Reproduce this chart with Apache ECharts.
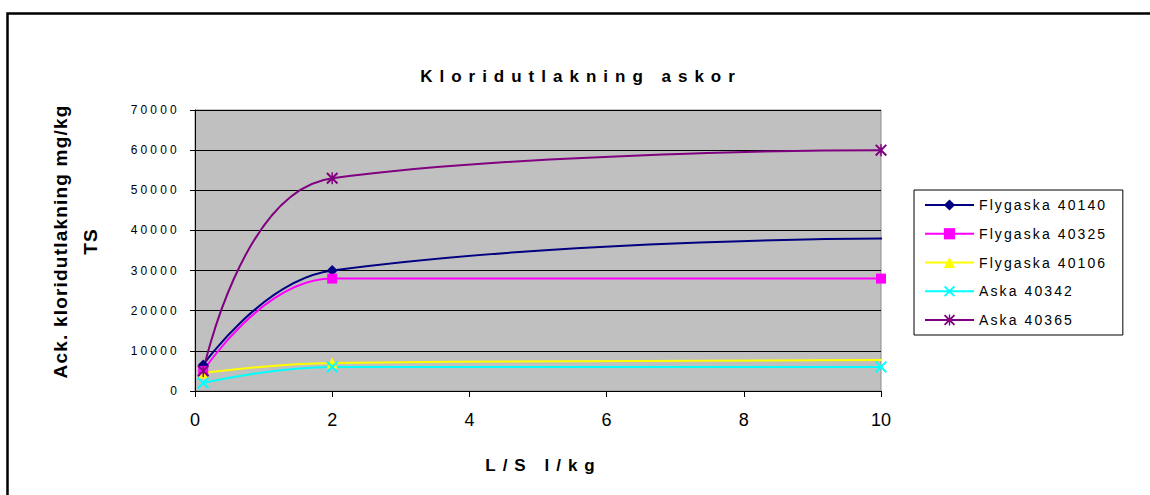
<!DOCTYPE html>
<html>
<head>
<meta charset="utf-8">
<script src="https://cdn.jsdelivr.net/npm/echarts@6/dist/echarts.min.js"></script>
<style>
  html, body { margin: 0; padding: 0; background: #ffffff; }
  #chart { width: 1150px; height: 495px; }
  /* letter spacing of the original Excel text, keyed by font size */
  #chart text[style*="17px"] { letter-spacing: 7px; }
  #chart text[style*="19px"] { letter-spacing: 1.2px; }
  #chart text[style*="12px"] { letter-spacing: 3.2px; }
  #chart text[style*="14px"] { letter-spacing: 2.1px; }
</style>
</head>
<body>
<div id="chart"></div>
<script>
// ---- data ----
const chartTitle = 'Kloridutlakning askor';
const xAxisName = 'L/S l/kg';
const yAxisName = 'Ack. kloridutlakning mg/kg\nTS';
const seriesNames = ['Flygaska 40140', 'Flygaska 40325', 'Flygaska 40106', 'Aska 40342', 'Aska 40365'];
const lsValues = [0.12, 2, 10];           // L/S values (l/kg)
const lsValuesLong = [0.12, 2, 10.1];     // series whose last point lies just past the axis end
const flygaska40140 = [6500, 30000, 38000];
const flygaska40325 = [5000, 28000, 28000];
const flygaska40106 = [4500, 7000, 7700];
const aska40342 = [2000, 6000, 6000];
const aska40365 = [5000, 53000, 60000];
const xTicks = { min: 0, max: 10, interval: 2 };
const yTicks = { min: 0, max: 70000, interval: 10000 };

const colors = ['#000080', '#FF00FF', '#FFFF00', '#00FFFF', '#800080'];
const xPath = 'path://M0,1.2 L1.2,0 L10,8.8 L8.8,10 Z M8.8,0 L10,1.2 L1.2,10 L0,8.8 Z';
const starPath = 'path://M0,1.2 L1.2,0 L10,8.8 L8.8,10 Z M8.8,0 L10,1.2 L1.2,10 L0,8.8 Z M4.4,0 L5.6,0 L5.6,10 L4.4,10 Z';
const symbols = ['diamond', 'rect', 'triangle', xPath, starPath];
const symbolSizes = [11, 10, 11, 12, 12];

function pairs(xs, ys) { return xs.map((x, i) => [x, ys[i]]); }
const seriesData = [
  pairs(lsValuesLong, flygaska40140),
  pairs(lsValues, flygaska40325),
  pairs(lsValuesLong, flygaska40106),
  pairs(lsValues, aska40342),
  pairs(lsValues, aska40365)
];

const FONT = 'Liberation Sans, Arial, sans-serif';
const chart = echarts.init(document.getElementById('chart'), null, { renderer: 'svg' });
chart.setOption({
  animation: false,
  backgroundColor: '#ffffff',
  title: {
    text: chartTitle,
    left: 576, top: 63,
    textAlign: 'center',
    textStyle: { fontFamily: FONT, fontSize: 17, fontWeight: 'bold', color: '#000' }
  },
  graphic: [{
    type: 'rect', left: 5, top: 11, silent: true,
    shape: { width: 1200, height: 600 },
    style: { fill: 'none', stroke: '#000', lineWidth: 2.5 }
  }],
  legend: {
    orient: 'vertical',
    left: 914, top: 190,
    borderColor: '#000', borderWidth: 1,
    padding: [8, 45, 8, 10],
    itemWidth: 49, itemHeight: 14, itemGap: 14.75,
    textStyle: { fontFamily: FONT, fontSize: 14, color: '#000' },
    data: seriesNames
  },
  grid: {
    left: 195, right: 269, top: 110, bottom: 104,
    show: true, backgroundColor: '#c0c0c0', borderColor: '#8c8c8c', borderWidth: 1
  },
  xAxis: {
    type: 'value', min: xTicks.min, max: xTicks.max, interval: xTicks.interval,
    name: xAxisName, nameLocation: 'middle', nameGap: 66,
    nameTextStyle: { fontFamily: FONT, fontSize: 17, fontWeight: 'bold', color: '#000', padding: [0, 0, 0, 11] },
    axisLine: { show: true, onZero: false, lineStyle: { color: '#000', width: 1 } },
    axisTick: { show: true, inside: false, length: 6, lineStyle: { color: '#000' } },
    axisLabel: { fontFamily: FONT, fontSize: 18, color: '#000', margin: 20 },
    splitLine: { show: false }
  },
  yAxis: {
    type: 'value', min: yTicks.min, max: yTicks.max, interval: yTicks.interval,
    name: yAxisName, nameLocation: 'middle', nameRotate: 90, nameGap: 90,
    nameTextStyle: { fontFamily: FONT, fontSize: 19, fontWeight: 'bold', color: '#000', lineHeight: 30, padding: [0, 0, 0, 18] },
    axisLine: { show: true, lineStyle: { color: '#000', width: 1 } },
    axisTick: { show: true, inside: false, length: 5, lineStyle: { color: '#000' } },
    axisLabel: { fontFamily: FONT, fontSize: 12, color: '#000', margin: 15, formatter: (v) => String(v) },
    splitLine: { show: true, lineStyle: { color: '#000', width: 1 } }
  },
  series: seriesNames.map((name, i) => ({
    name: name,
    type: 'line',
    data: seriesData[i],
    smooth: 0.45,
    clip: true,
    symbol: symbols[i],
    symbolSize: symbolSizes[i],
    showAllSymbol: true,
    itemStyle: { color: colors[i] },
    lineStyle: { color: colors[i], width: 2 },
    emphasis: { disabled: true }
  }))
});
</script>
</body>
</html>
